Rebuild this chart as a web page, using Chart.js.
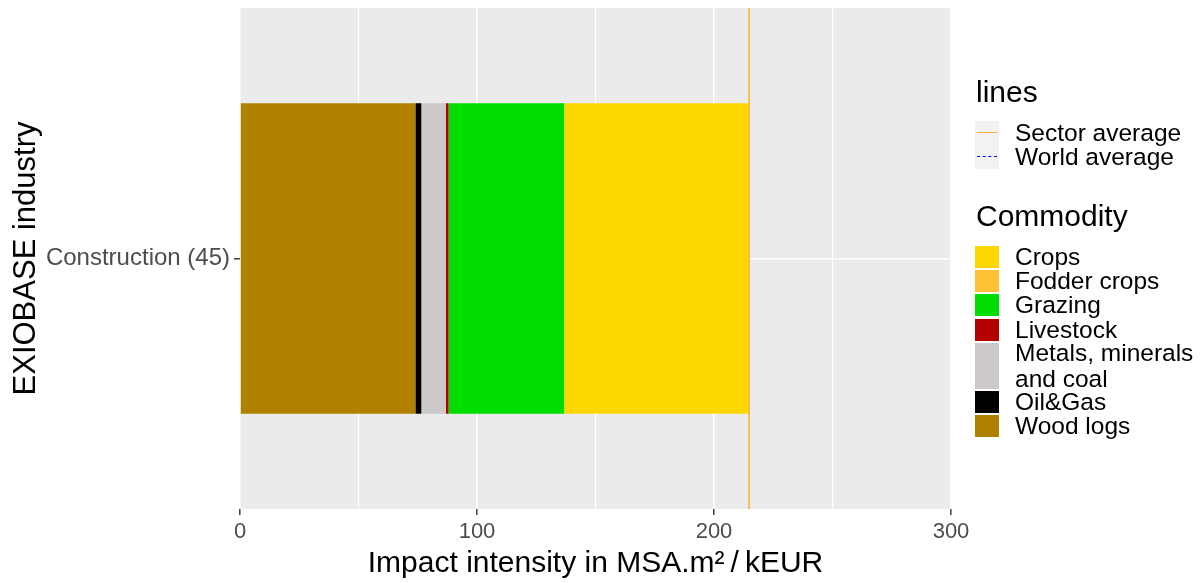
<!DOCTYPE html>
<html>
<head>
<meta charset="utf-8">
<script src="https://cdn.jsdelivr.net/npm/chart.js@4/dist/chart.umd.min.js"></script>
<style>
  html, body { margin: 0; padding: 0; background: #fff; overflow: hidden; }
  body { font-family: "Liberation Sans", Arial, sans-serif; }
  #wrap { position: relative; width: 1203px; height: 583px; }
  #chart { position: absolute; left: 0; top: 0; }
  .leg-title { position: absolute; left: 976px; font-size: 30px; line-height: 30px; color: #000; white-space: nowrap; }
  .leg-row { position: absolute; left: 975px; display: flex; align-items: center; }
  .leg-key { width: 24px; flex: none; }
  .leg-label { position: absolute; left: 40px; font-size: 24.5px; line-height: 26px; color: #000; white-space: nowrap; }
</style>
</head>
<body>
<div id="wrap">
  <canvas id="chart" width="1203" height="583"></canvas>
  <div id="legend"></div>
</div>
<script>
const industries = ['Construction (45)'];
const commodities = ['Crops', 'Fodder crops', 'Grazing', 'Livestock', 'Metals, minerals and coal', 'Oil&Gas', 'Wood logs'];
const intensities = [77.8, 0, 48.8, 1.1, 10.4, 2.5, 74.0];
const commodityColors = ['#FFD700', '#FFC133', '#00DD00', '#B30000', '#CDC9C9', '#000000', '#B08000'];
const sectorAverage = 214.8;
const xTicks = [0, 100, 200, 300];
const lineLabels = ['Sector average', 'World average'];
const lineColors = ['#FFB030', '#0000FF'];

const PANEL_BG = '#EBEBEB';
const AXIS_TEXT = '#4D4D4D';

// grey panel behind the bars, sector average line on top
const panelPlugin = {
  id: 'panel',
  beforeDraw(chart) {
    const { ctx, chartArea: a } = chart;
    ctx.save();
    ctx.fillStyle = PANEL_BG;
    ctx.fillRect(a.left, a.top, a.right - a.left, a.bottom - a.top);
    ctx.restore();
  },
  afterDatasetsDraw(chart) {
    const { ctx, chartArea: a, scales } = chart;
    const x = scales.x.getPixelForValue(sectorAverage);
    ctx.save();
    ctx.strokeStyle = lineColors[0];
    ctx.lineWidth = 1.6;
    ctx.beginPath();
    ctx.moveTo(x, a.top);
    ctx.lineTo(x, a.bottom);
    ctx.stroke();
    ctx.restore();
  }
};

// stack from the bottom of the legend upwards (Wood logs first)
const datasets = commodities.map((c, i) => ({
  label: c,
  data: [intensities[i]],
  backgroundColor: commodityColors[i],
  borderWidth: 0,
  categoryPercentage: 1,
  barPercentage: 0.62
})).reverse();

new Chart(document.getElementById('chart'), {
  type: 'bar',
  data: { labels: industries, datasets },
  options: {
    indexAxis: 'y',
    responsive: false,
    devicePixelRatio: 1,
    animation: false,
    layout: { padding: { top: 8, right: 252, left: 0, bottom: 0 } },
    plugins: {
      legend: { display: false },
      tooltip: { enabled: false }
    },
    scales: {
      x: {
        type: 'linear',
        stacked: true,
        min: 0,
        max: 300,
        afterFit(scale) {
          scale.height = 74;
          scale.paddingLeft = 0;
          scale.paddingRight = 0;
        },
        ticks: {
          stepSize: 50,
          autoSkip: false,
          maxRotation: 0,
          padding: 4,
          color: AXIS_TEXT,
          font: { family: 'Liberation Sans', size: 22 },
          callback: v => xTicks.includes(v) ? String(v) : ''
        },
        grid: {
          color: '#FFFFFF',
          lineWidth: c => (c.tick && xTicks.includes(c.tick.value)) ? 1.6 : 1.1,
          tickColor: c => (c.tick && xTicks.includes(c.tick.value)) ? '#333333' : 'rgba(0,0,0,0)',
          tickLength: 6,
          tickWidth: 1.4
        },
        border: { display: false },
        title: {
          display: true,
          text: 'Impact intensity in MSA.m\u00B2\u2009/\u2009kEUR',
          color: '#000',
          font: { family: 'Liberation Sans', size: 30 },
          padding: { top: 0, bottom: 1 }
        }
      },
      y: {
        stacked: true,
        afterFit(scale) {
          scale.width = 240;
          scale.paddingTop = 0;
          scale.paddingBottom = 0;
        },
        ticks: {
          padding: 4,
          color: AXIS_TEXT,
          font: { family: 'Liberation Sans', size: 24 }
        },
        grid: {
          offset: false,
          color: '#FFFFFF',
          lineWidth: 1.6,
          tickColor: '#333333',
          tickLength: 6,
          tickWidth: 1.4
        },
        border: { display: false },
        title: {
          display: true,
          text: 'EXIOBASE industry',
          color: '#000',
          font: { family: 'Liberation Sans', size: 31 },
          padding: { top: 8, bottom: 0 }
        }
      }
    }
  },
  plugins: [panelPlugin]
});

// legend (two guides, ggplot style)
const legendEl = document.getElementById('legend');
function addTitle(text, y) {
  const d = document.createElement('div');
  d.className = 'leg-title';
  d.style.top = y + 'px';
  d.textContent = text;
  legendEl.appendChild(d);
}

addTitle('lines', 77);
const linesBox = document.createElement('div');
linesBox.style.cssText = 'position:absolute;left:975px;top:121px;width:24px;height:48px;background:#F2F2F2;';
legendEl.appendChild(linesBox);
lineLabels.forEach((lab, i) => {
  const row = document.createElement('div');
  row.className = 'leg-row';
  row.style.top = (121 + i * 24) + 'px';
  row.style.height = '24px';
  const key = document.createElement('div');
  key.className = 'leg-key';
  key.style.cssText = 'width:24px;height:24px;position:relative;';
  const ln = document.createElement('div');
  ln.style.cssText = 'position:absolute;left:2px;right:2px;top:11px;height:0;border-top:1.5px ' +
    (i === 0 ? 'solid ' : 'dashed ') + lineColors[i] + ';';
  key.appendChild(ln);
  const t = document.createElement('div');
  t.className = 'leg-label';
  t.textContent = lab;
  row.appendChild(key);
  row.appendChild(t);
  legendEl.appendChild(row);
});

addTitle('Commodity', 201);
let rowTop = 245;
commodities.forEach((c, i) => {
  const twoLines = c === 'Metals, minerals and coal';
  const h = twoLines ? 48 : 24;
  const row = document.createElement('div');
  row.className = 'leg-row';
  row.style.top = rowTop + 'px';
  row.style.height = h + 'px';
  const key = document.createElement('div');
  key.className = 'leg-key';
  key.style.height = (h - 2) + 'px';
  key.style.background = commodityColors[i];
  const t = document.createElement('div');
  t.className = 'leg-label';
  if (twoLines) {
    t.innerHTML = 'Metals, minerals<br>and coal';
  } else {
    t.textContent = c;
  }
  row.appendChild(key);
  row.appendChild(t);
  legendEl.appendChild(row);
  rowTop += h + 0.2;
});
</script>
</body>
</html>
